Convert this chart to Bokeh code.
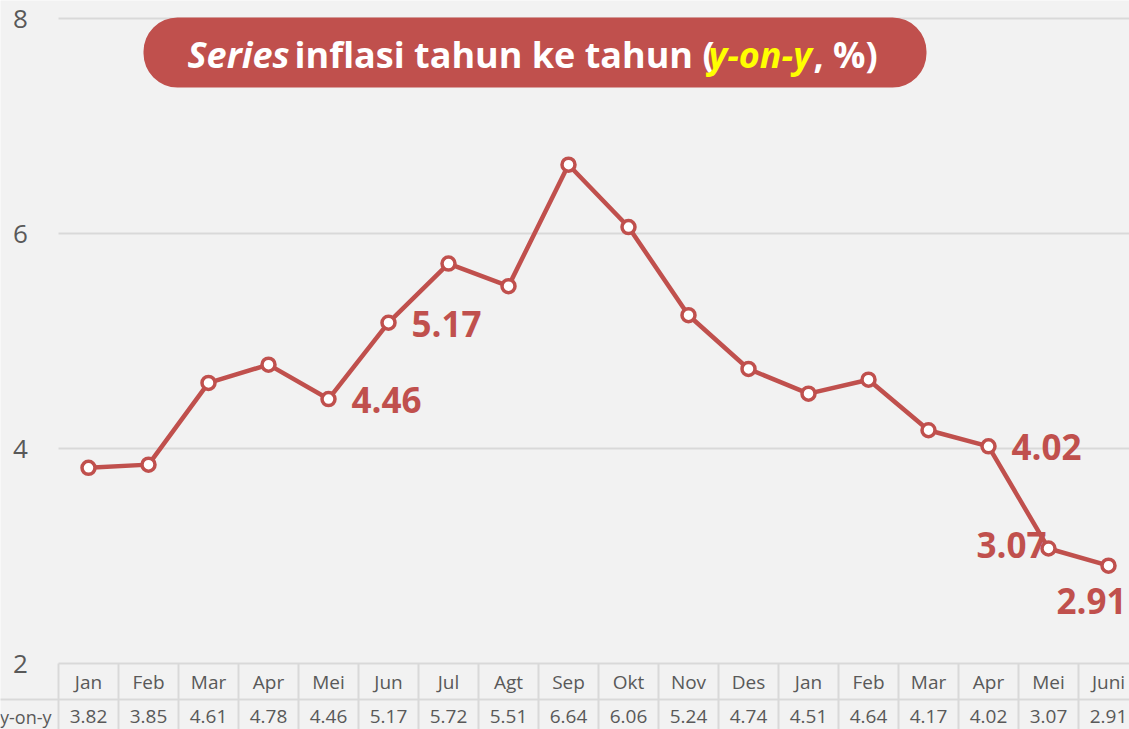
from bokeh.plotting import figure
from bokeh.models import Range1d, BoxAnnotation, Label
from bokeh.core.properties import value
from bokeh.embed import file_html
from bokeh.resources import INLINE

# ---- data ----
months = ["Jan", "Feb", "Mar", "Apr", "Mei", "Jun", "Jul", "Agt", "Sep", "Okt",
          "Nov", "Des", "Jan", "Feb", "Mar", "Apr", "Mei", "Juni"]
yoy = [3.82, 3.85, 4.61, 4.78, 4.46, 5.17, 5.72, 5.51, 6.64, 6.06,
       5.24, 4.74, 4.51, 4.64, 4.17, 4.02, 3.07, 2.91]
y_ticks = [2, 4, 6, 8]
row_label = "y-on-y"
title_parts = ["Series", "inflasi tahun ke tahun (", "y-on-y", ", %)"]

RED = "#c0504d"
GRID = "#d9d9d9"
TXT = "#595959"
BG = "#f2f2f2"
FONT = "Open Sans"

W, H = 1129, 729
PX_X = 60.0      # pixels per category
PX_Y = 107.5     # pixels per unit


# layout helpers: pixel position in the figure -> data coordinates
def rx(px):
    return (px - 88) / PX_X


def ry(py):
    return 2 - (py - 663) / PX_Y


xs = list(range(len(months)))

p = figure(width=W, height=H, output_backend="svg", toolbar_location=None,
           x_range=Range1d(rx(0), rx(W)), y_range=Range1d(ry(H), ry(0)),
           x_axis_location=None, y_axis_location=None,
           min_border=0, min_border_left=0, min_border_right=0,
           min_border_top=0, min_border_bottom=0)
p.background_fill_color = BG
p.border_fill_color = BG
p.outline_line_color = None
for g in p.grid:
    g.visible = False

# gridlines
p.segment(x0=[-0.5] * len(y_ticks), x1=[len(months) - 0.5] * len(y_ticks),
          y0=y_ticks, y1=y_ticks, line_color=GRID, line_width=2)
# y tick labels
p.text(x=[rx(20)] * len(y_ticks), y=y_ticks, text=[str(t) for t in y_ticks],
       text_font=value(FONT), text_font_size="26px", text_color=TXT,
       text_align="center", text_baseline="middle")

# data table
bottom = ry(H + 5)
n1 = len(months) + 1
p.segment(x0=[k - 0.5 for k in range(n1)], x1=[k - 0.5 for k in range(n1)],
          y0=[2] * n1, y1=[bottom] * n1, line_color=GRID, line_width=2)
p.segment(x0=[rx(-5)], x1=[len(months) - 0.5], y0=[ry(699)], y1=[ry(699)],
          line_color=GRID, line_width=2)
p.text(x=xs, y=[ry(681)] * len(months), text=months, text_font=value(FONT),
       text_font_size="19px", text_color=TXT, text_align="center", text_baseline="middle")
p.text(x=xs, y=[ry(716)] * len(months), text=[f"{v:.2f}" for v in yoy], text_font=value(FONT),
       text_font_size="19px", text_color=TXT, text_align="center", text_baseline="middle")
p.text(x=[rx(51)], y=[ry(716)], text=[row_label], text_font=value(FONT),
       text_font_size="18px", text_color=TXT, text_align="right", text_baseline="middle")

# data labels
lab_style = dict(text_font=value(FONT), text_font_size="35px", text_font_style="bold",
                 text_color=RED, text_baseline="middle")
for i in (4, 5, 15):
    p.text(x=[xs[i]], y=[yoy[i]], text=[f"{yoy[i]:.2f}"], text_align="left",
           x_offset=23, y_offset=1, **lab_style)
p.text(x=[xs[16]], y=[yoy[16]], text=[f"{yoy[16]:.2f}"], text_align="right",
       x_offset=-2, y_offset=-3, **lab_style)
p.text(x=[xs[17]], y=[yoy[17]], text=[f"{yoy[17]:.2f}"], text_align="center",
       x_offset=-17, y_offset=35, **lab_style)

# series
p.line(xs, yoy, line_color=RED, line_width=4.5)
p.scatter(xs, yoy, size=13, fill_color="white", line_color=RED, line_width=3.5)

# title box
box = BoxAnnotation(left=rx(143), right=rx(926), top=ry(17), bottom=ry(87),
                    fill_color=RED, fill_alpha=1.0, line_color=None, border_radius=34)
p.add_layout(box)
starts = [187, 294, 708, 813]
styles = ["bold italic", "bold", "bold italic", "bold"]
colors = ["white", "white", "#ffff00", "white"]
for txt, sx, st, c in zip(title_parts, starts, styles, colors):
    p.add_layout(Label(x=rx(sx), y=ry(54), text=txt, text_font=FONT,
                       text_font_size="36px", text_font_style=st, text_color=c,
                       text_align="left", text_baseline="middle"))

open("out.html", "w").write(file_html(p, INLINE))
